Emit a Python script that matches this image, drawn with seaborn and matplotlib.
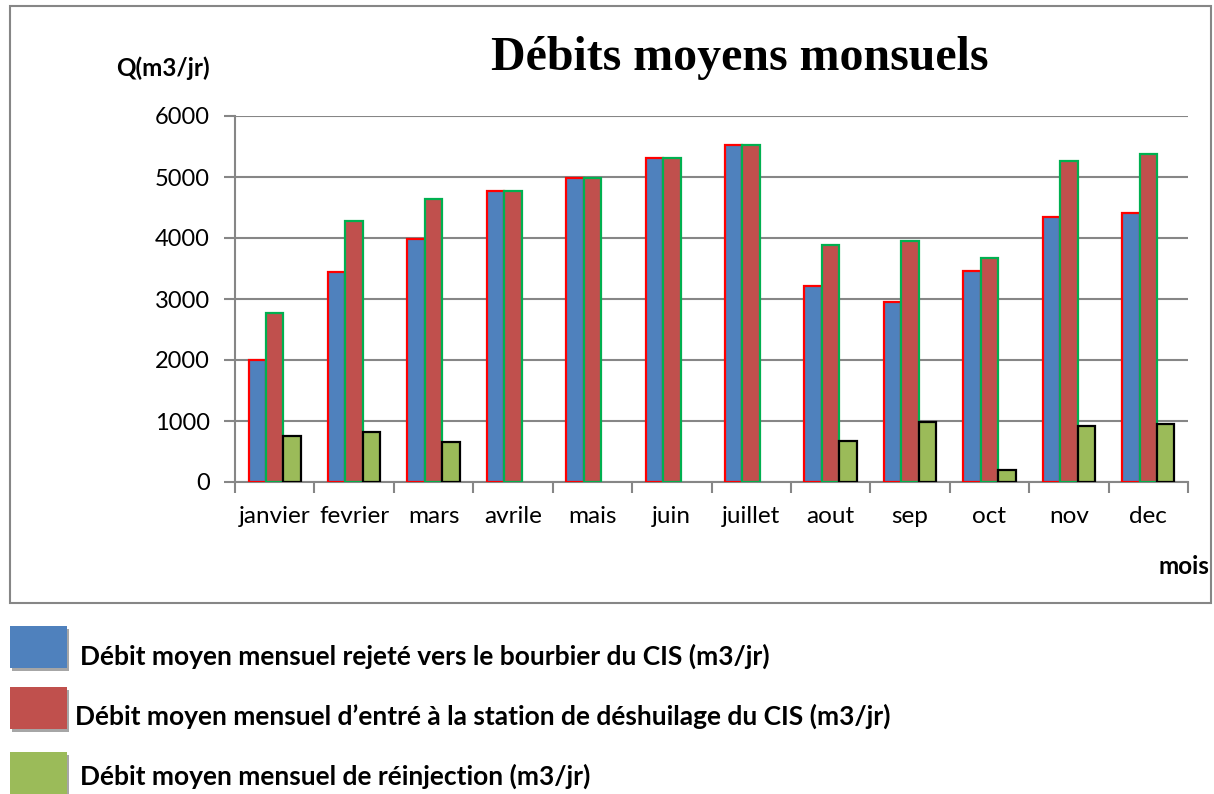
import numpy as np
import pandas as pd
import matplotlib
matplotlib.use("Agg")
import matplotlib.pyplot as plt
from matplotlib.patches import Rectangle
import seaborn as sns

months = ["janvier", "fevrier", "mars", "avrile", "mais", "juin", "juillet",
          "aout", "sep", "oct", "nov", "dec"]
rejete = [2000, 3450, 3990, 4765, 4985, 5305, 5530, 3210, 2950, 3455, 4345, 4410]
entree = [2765, 4280, 4635, 4765, 4985, 5305, 5530, 3885, 3945, 3665, 5265, 5385]
reinjection = [750, 815, 650, np.nan, np.nan, np.nan, np.nan, 670, 985, 200, 915, 955]

series_names = [
    "Débit moyen mensuel rejeté vers le bourbier du CIS (m3/jr)",
    "Débit moyen mensuel d’entré à la station de déshuilage du CIS (m3/jr)",
    "Débit moyen mensuel de réinjection (m3/jr)",
]
fill_colors = ["#4F81BD", "#C0504D", "#9BBB59"]
edge_colors = ["#FF0000", "#00B050", "#000000"]

df = pd.DataFrame({
    "mois": months * 3,
    "valeur": rejete + entree + reinjection,
    "serie": [series_names[0]] * 12 + [series_names[1]] * 12 + [series_names[2]] * 12,
})

sns.set_theme(style="white")
plt.rcParams["font.family"] = ["Lato", "DejaVu Sans"]
plt.rcParams["text.color"] = "black"
plt.rcParams["xtick.labelcolor"] = "black"
plt.rcParams["ytick.labelcolor"] = "black"

W, H = 1214, 794
fig = plt.figure(figsize=(W / 100, H / 100), dpi=100)
ax = fig.add_axes([235 / W, 1 - 482 / H, (1188 - 235) / W, (482 - 116) / H])

sns.barplot(data=df, x="mois", y="valeur", hue="serie", order=months,
            hue_order=series_names, palette=fill_colors, width=0.66,
            gap=0, dodge=True, errorbar=None, legend=False, ax=ax,
            saturation=1)

for cont, ec in zip(ax.containers, edge_colors):
    for p in cont:
        p.set_edgecolor(ec)
        p.set_linewidth(1.6)
        p.set_zorder(3)

ax.set_ylim(0, 6000)
ax.set_xlim(-0.5, 11.5)
ax.set_yticks(np.arange(0, 6001, 1000))
ax.set_yticklabels([str(v) for v in range(0, 6001, 1000)], fontsize=17, color="black")
ax.set_xticks(range(12))
ax.set_xticklabels(months, fontsize=17.5, color="black")
ax.set_xticks(np.arange(-0.5, 12, 1), minor=True)
ax.tick_params(axis="x", which="major", length=0, pad=17)
ax.tick_params(axis="x", which="minor", length=8, width=1.5, color="#868686",
               direction="out", bottom=True)
ax.tick_params(axis="y", which="major", length=8, width=1.5, color="#868686",
               direction="out", left=True, pad=10)
ax.set_xlabel("")
ax.set_ylabel("")
ax.yaxis.grid(True, color="#868686", linewidth=1.5, zorder=0)
ax.xaxis.grid(False)
ax.set_axisbelow(True)
for s in ["top", "right"]:
    ax.spines[s].set_visible(False)
for s in ["left", "bottom"]:
    ax.spines[s].set_color("#868686")
    ax.spines[s].set_linewidth(1.5)

# outer frame
fig.add_artist(Rectangle((10 / W, 1 - 603 / H), (1211 - 10) / W, (603 - 6) / H,
                         transform=fig.transFigure, fill=False,
                         edgecolor="#868686", linewidth=1.5, zorder=0))

fig.text(740 / W, 1 - 58 / H, "Débits moyens monsuels", ha="center", va="center",
         fontsize=34.5, fontweight="bold", color="black",
         family=["Liberation Serif", "DejaVu Serif"])
fig.text(163 / W, 1 - 68 / H, "Q(m3/jr)", ha="center", va="center",
         fontsize=17.5, fontweight="bold", color="black")
fig.text(1209 / W, 1 - 567 / H, "mois", ha="right", va="center",
         fontsize=17.5, fontweight="bold", color="black")

# legend below frame
box_tops = [626, 687, 752]
text_y = [656, 716, 776]
text_x = [80, 75, 80]
for top, ty, tx, col, lab in zip(box_tops, text_y, text_x, fill_colors, series_names):
    fig.add_artist(Rectangle((12 / W, 1 - (top + 45) / H), 57 / W, 42 / H,
                             transform=fig.transFigure, facecolor="#A6A6A6",
                             edgecolor="none"))
    fig.add_artist(Rectangle((10 / W, 1 - (top + 42) / H), 57 / W, 42 / H,
                             transform=fig.transFigure, facecolor=col,
                             edgecolor="none"))
    fig.text(tx / W, 1 - ty / H, lab, ha="left", va="center", fontsize=19,
             fontweight="bold", color="black")

fig.savefig("out.png", dpi=100)
